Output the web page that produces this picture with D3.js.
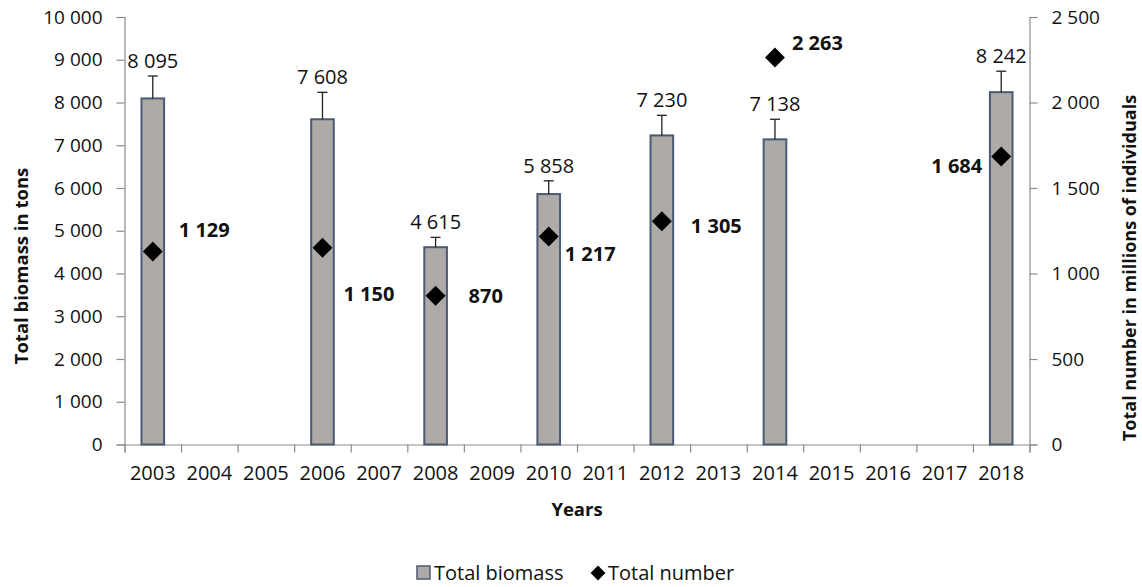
<!DOCTYPE html>
<html><head><meta charset="utf-8">
<script src="https://cdn.jsdelivr.net/npm/d3@7/dist/d3.min.js"></script>
<style>
body{margin:0;background:#fff;}
text{font-family:"Open Sans","Noto Sans",sans-serif;fill:#111;}
</style></head><body>
<svg id="c" width="1142" height="587"></svg>
<script>
const years = ["2003","2004","2005","2006","2007","2008","2009","2010","2011","2012","2013","2014","2015","2016","2017","2018"];
const biomassYears = ["2003","2006","2008","2010","2012","2014","2018"];
const biomass = [8095, 7608, 4615, 5858, 7230, 7138, 8242];
const biomassError = [525, 630, 230, 310, 470, 470, 490];
const numberTotal = [1129, 1150, 870, 1217, 1305, 2263, 1684];
const leftTicks = [0,1000,2000,3000,4000,5000,6000,7000,8000,9000,10000];
const rightTicks = [0,500,1000,1500,2000,2500];
// label placement for number labels (dx, dy, anchor)
const numLabelPlace = [[26,-21,"start"],[21,46,"start"],[33,0,"start"],[16,18,"start"],[29,5,"start"],[17,-15,"start"],[-19,9,"end"]];

const fmtS = v => d3.format(",")(v).replace(/,/g, " ");

const svg = d3.select("#c");
const L = 124.5, R = 1029.5, T = 17, B = 444.5;
const x = d3.scaleBand().domain(years).range([L, R]).paddingInner(0.6).paddingOuter(0.3);
const yL = d3.scaleLinear().domain([0, 10000]).range([B, T]);
const yR = d3.scaleLinear().domain([0, 2500]).range([B, T]);
const axisColor = "#8c8c8c";
const ff = '"Open Sans","Noto Sans",sans-serif';

// left axis
const gl = svg.append("g").attr("transform", `translate(${L},0)`)
  .call(d3.axisLeft(yL).tickValues(leftTicks).tickFormat(fmtS).tickSize(8).tickPadding(14));
// right axis
const gr = svg.append("g").attr("transform", `translate(${R},0)`)
  .call(d3.axisRight(yR).tickValues(rightTicks).tickFormat(fmtS).tickSize(8).tickPadding(14));
// x axis
const xb = d3.scaleLinear().domain([0, years.length]).range([L, R]);
const gx = svg.append("g").attr("transform", `translate(0,${B})`)
  .call(d3.axisBottom(xb).tickValues(d3.range(years.length + 1)).tickFormat("").tickSize(8));
svg.append("g").selectAll("text").data(years).join("text")
  .attr("x", d => x(d) + x.bandwidth() / 2).attr("y", B + 35)
  .attr("text-anchor", "middle").style("font-size", "20px").text(d => d);

[gl, gr, gx].forEach(g => {
  g.select(".domain").attr("stroke", axisColor).attr("stroke-width", 1.2);
  g.selectAll(".tick line").attr("stroke", axisColor).attr("stroke-width", 1.2);
  g.selectAll(".tick text").style("font-size", "19px").attr("fill", "#111").style("font-family", ff);
});

// bars
const bw = x.bandwidth();
const barData = biomassYears.map((y, i) => ({year: y, v: biomass[i], e: biomassError[i], n: numberTotal[i], p: numLabelPlace[i]}));
svg.append("g").selectAll("rect").data(barData).join("rect")
  .attr("x", d => x(d.year)).attr("y", d => yL(d.v))
  .attr("width", bw).attr("height", d => B - yL(d.v))
  .attr("fill", "#aeaaa7").attr("stroke", "#4b5a73").attr("stroke-width", 2);

// error bars
const eg = svg.append("g").attr("stroke", "#222").attr("stroke-width", 1.3);
barData.forEach(d => {
  const cx = x(d.year) + bw / 2;
  eg.append("line").attr("x1", cx).attr("x2", cx).attr("y1", yL(d.v)).attr("y2", yL(d.v + d.e));
  eg.append("line").attr("x1", cx - 5).attr("x2", cx + 5).attr("y1", yL(d.v + d.e)).attr("y2", yL(d.v + d.e));
});

// biomass labels
svg.append("g").selectAll("text").data(barData).join("text")
  .attr("x", d => x(d.year) + bw / 2).attr("y", d => yL(d.v + d.e) - 8)
  .attr("text-anchor", "middle").style("font-size", "20px").text(d => fmtS(d.v));

// diamonds
const sym = d3.symbol().type(d3.symbolSquare).size(200);
svg.append("g").selectAll("path").data(barData).join("path")
  .attr("d", sym)
  .attr("transform", d => `translate(${x(d.year) + bw / 2},${yR(d.n)}) rotate(45)`)
  .attr("fill", "#000");

// number labels
svg.append("g").selectAll("text").data(barData).join("text")
  .attr("x", d => x(d.year) + bw / 2 + d.p[0]).attr("y", d => yR(d.n) + d.p[1])
  .attr("dy", "0.35em").attr("text-anchor", d => d.p[2])
  .style("font-size", "20px").style("font-weight", "bold").text(d => fmtS(d.n));

// axis titles
svg.append("text").attr("transform", `translate(28,266) rotate(-90)`)
  .attr("text-anchor", "middle").style("font-size", "18.5px").style("font-weight", "bold")
  .text("Total biomass in tons");
svg.append("text").attr("transform", `translate(1136,268) rotate(-90)`)
  .attr("text-anchor", "middle").style("font-size", "18px").style("font-weight", "bold")
  .text("Total number in millions of individuals");
svg.append("text").attr("x", (L + R) / 2).attr("y", 516)
  .attr("text-anchor", "middle").style("font-size", "18.5px").style("font-weight", "bold").text("Years");

// legend
const lg = svg.append("g").attr("transform", "translate(0,573)");
lg.append("rect").attr("x", 417).attr("y", -7).attr("width", 13).attr("height", 13)
  .attr("fill", "#aeaaa7").attr("stroke", "#4b5a73").attr("stroke-width", 1.5);
lg.append("text").attr("x", 434).attr("y", 0).attr("dy", "0.35em").style("font-size", "20px").text("Total biomass");
lg.append("path").attr("d", d3.symbol().type(d3.symbolSquare).size(110))
  .attr("transform", "translate(598,0) rotate(45)").attr("fill", "#000");
lg.append("text").attr("x", 608).attr("y", 0).attr("dy", "0.35em").style("font-size", "20px").text("Total number");
</script>
</body></html>
